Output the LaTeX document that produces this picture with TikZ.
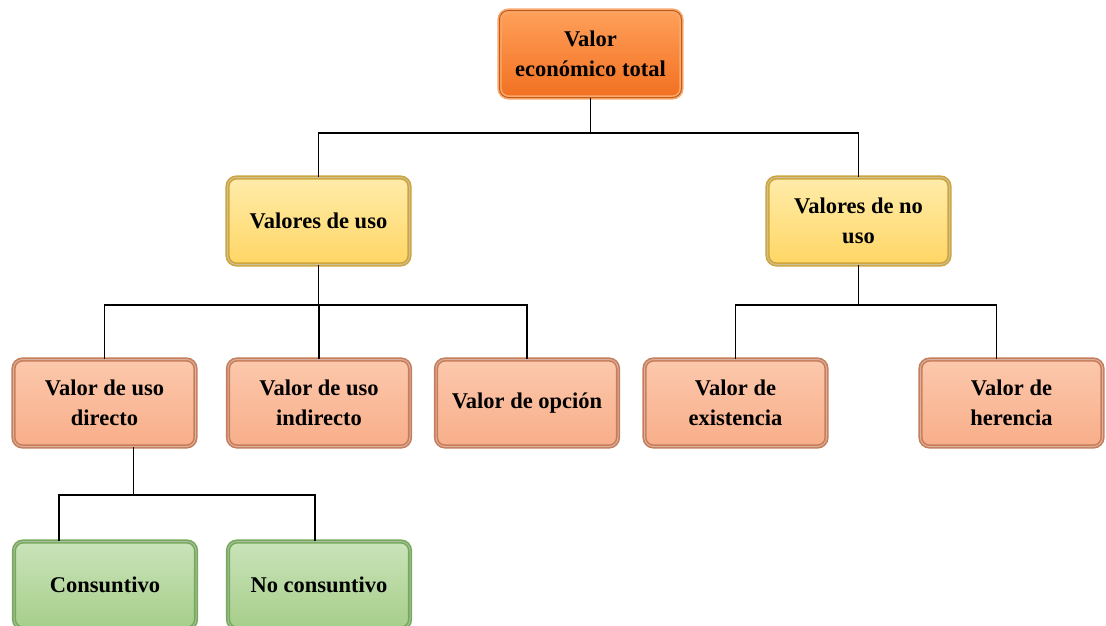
\documentclass[tikz,border=0pt]{standalone}
\usepackage{fontspec}
\setmainfont{Liberation Serif}
\definecolor{totaltop}{RGB}{255,160,90}
\definecolor{totalbot}{RGB}{242,112,32}
\definecolor{totaledge}{RGB}{248,170,110}
\definecolor{usotop}{RGB}{255,236,170}
\definecolor{usobot}{RGB}{255,214,100}
\definecolor{usoedge}{RGB}{205,165,60}
\definecolor{tipotop}{RGB}{252,200,172}
\definecolor{tipobot}{RGB}{248,174,138}
\definecolor{tipoedge}{RGB}{200,125,90}
\definecolor{constop}{RGB}{202,228,186}
\definecolor{consbot}{RGB}{166,206,138}
\definecolor{consedge}{RGB}{118,170,90}
\begin{document}
\begin{tikzpicture}[x=1pt,y=-1pt]
        \tikzstyle{valbox}=[rounded corners=9pt,minimum width=182pt,minimum height=87pt,align=center,font=\fontsize{22.5}{30}\selectfont\bfseries,line width=1.6pt,double distance=1pt]
        \tikzstyle{total}=[valbox,top color=totaltop,bottom color=totalbot,draw=totaledge,double=totalbot!80!black]
        \tikzstyle{uso}=[valbox,top color=usotop,bottom color=usobot,draw=usoedge,double=usotop!60!gray]
        \tikzstyle{tipo}=[valbox,top color=tipotop,bottom color=tipobot,draw=tipoedge,double=tipotop!70!gray]
        \tikzstyle{cons}=[valbox,top color=constop,bottom color=consbot,draw=consedge,double=constop!60!gray]
        \tikzstyle{edge}=[draw, line width=1.6pt]
       \clip (0,0) rectangle (1106,625);
       \fill[white] (0,0) rectangle (1106,625);
       \begin{scope}
         \coordinate (b1) at (0,133);
         \coordinate (b2) at (0,305);
         \coordinate (b3) at (0,495);
         \node [total] (vet) at (590.5,54) {Valor\\económico total};
         \node [uso] (vu) at (318.5,221) {Valores de uso};
         \node [uso] (vnu) at (858.5,221) {Valores de no\\uso};
         \node [tipo] (vud) at (104.5,403) {Valor de uso\\directo};
         \node [tipo] (vui) at (319,403) {Valor de uso\\indirecto};
         \node [tipo] (vop) at (527,403) {Valor de opción};
         \node [tipo] (vex) at (735.5,403) {Valor de\\existencia};
         \node [tipo] (vhe) at (1011.5,403) {Valor de\\herencia};
         \node [cons] (con) at (105,585) {Consuntivo};
         \node [cons] (ncon) at (319,585) {No consuntivo};
         \path[edge] (vet.south) -- (vet.south |- b1);
         \path[edge] (vu.north) |- (vnu.north |- b1) -- (vnu.north);
         \path[edge] (vu.south) -- (vu.south |- b2);
         \path[edge] (vud.north) |- (vop.north |- b2) -- (vop.north);
         \path[edge] (vui.north |- b2) -- (vui.north);
         \path[edge] (vnu.south) -- (vnu.south |- b2);
         \path[edge] (vex.north) |- ([xshift=-15pt]vhe.north |- b2) -- ([xshift=-15pt]vhe.north);
         \path[edge] ([xshift=29pt]vud.south) -- ([xshift=29pt]vud.south |- b3);
         \path[edge] ([xshift=-46pt]con.north) |- ([xshift=-4pt]ncon.north |- b3) -- ([xshift=-4pt]ncon.north);
        \end{scope}
      \end{tikzpicture}
\end{document}
